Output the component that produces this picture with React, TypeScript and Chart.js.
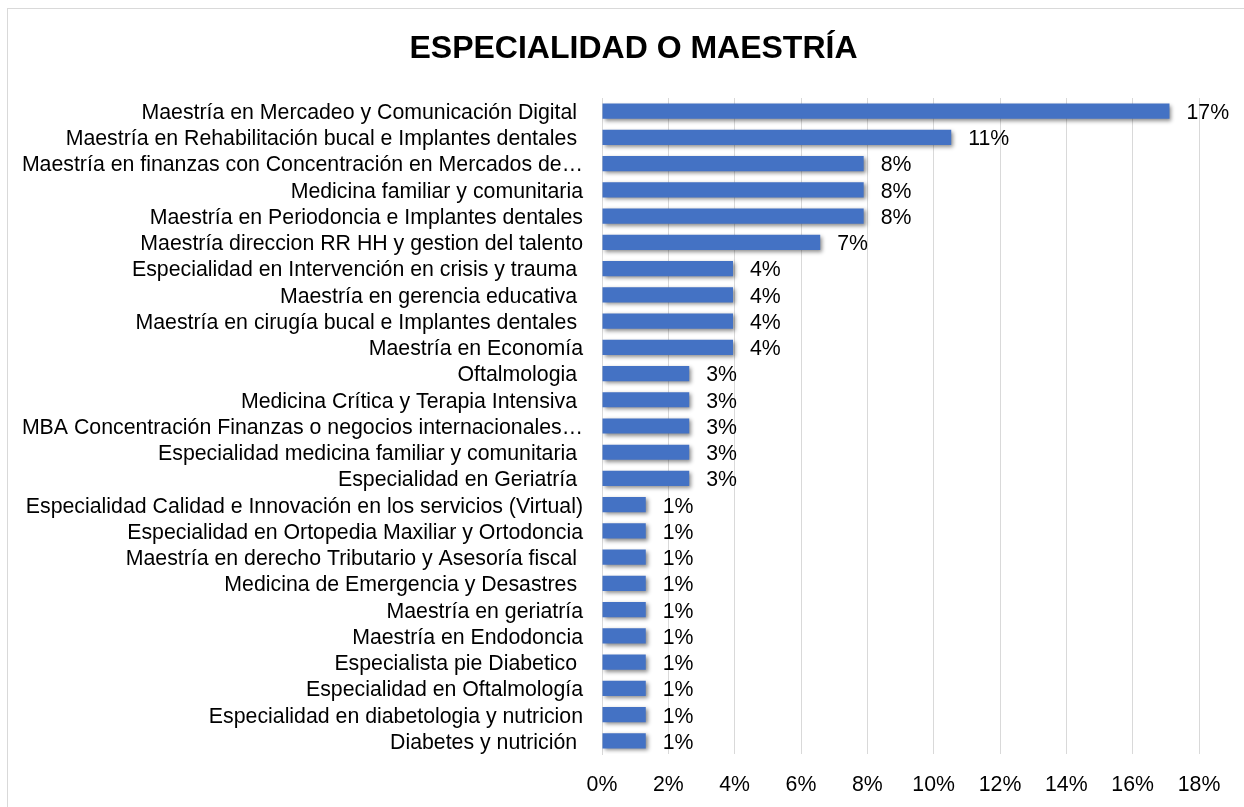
import React, { useEffect, useRef } from "react";
import { Chart, registerables } from "chart.js";

Chart.register(...registerables);

const categories: string[] = [
  "Maestría en Mercadeo y Comunicación Digital ",
  "Maestría en Rehabilitación bucal e Implantes dentales ",
  "Maestría en finanzas con Concentración en Mercados de…",
  "Medicina familiar y comunitaria",
  "Maestría en Periodoncia e Implantes dentales",
  "Maestría direccion RR HH y gestion del talento",
  "Especialidad en Intervención en crisis y trauma ",
  "Maestría en gerencia educativa ",
  "Maestría en cirugía bucal e Implantes dentales ",
  "Maestría en Economía",
  "Oftalmologia ",
  "Medicina Crítica y Terapia Intensiva ",
  "MBA Concentración Finanzas o negocios internacionales…",
  "Especialidad medicina familiar y comunitaria ",
  "Especialidad en Geriatría ",
  "Especialidad Calidad e Innovación en los servicios (Virtual)",
  "Especialidad en Ortopedia Maxiliar y Ortodoncia",
  "Maestría en derecho Tributario y Asesoría fiscal ",
  "Medicina de Emergencia y Desastres ",
  "Maestría en geriatría",
  "Maestría en Endodoncia",
  "Especialista pie Diabetico ",
  "Especialidad en Oftalmología",
  "Especialidad en diabetologia y nutricion",
  "Diabetes y nutrición ",
];

const values: number[] = [
  17.11, 10.53, 7.89, 7.89, 7.89, 6.58, 3.95, 3.95, 3.95, 3.95, 2.63, 2.63,
  2.63, 2.63, 2.63, 1.32, 1.32, 1.32, 1.32, 1.32, 1.32, 1.32, 1.32, 1.32, 1.32,
];

const valueLabels: string[] = [
  "17%", "11%", "8%", "8%", "8%", "7%", "4%", "4%", "4%", "4%", "3%", "3%",
  "3%", "3%", "3%", "1%", "1%", "1%", "1%", "1%", "1%", "1%", "1%", "1%", "1%",
];

const xTickMax = 18;
const xTickStep = 2;
const titleText = "ESPECIALIDAD O MAESTRÍA";

const FONT = "'Liberation Sans', Arial, sans-serif";

const decorPlugin = {
  id: "decor",
  beforeDraw(chart: any) {
    const ctx = chart.ctx;
    ctx.save();
    ctx.fillStyle = "#ffffff";
    ctx.fillRect(0, 0, chart.width, chart.height);
    ctx.strokeStyle = "#d9d9d9";
    ctx.lineWidth = 1;
    ctx.strokeRect(7.5, 8.5, chart.width + 10, chart.height + 10);
    ctx.fillStyle = "#000000";
    ctx.font = `bold 32px ${FONT}`;
    ctx.textAlign = "center";
    ctx.textBaseline = "alphabetic";
    ctx.fillText(titleText, 633.5, 58);
    ctx.restore();
  },
  beforeDatasetsDraw(chart: any) {
    const ctx = chart.ctx;
    ctx.save();
    ctx.shadowColor = "rgba(0,0,0,0.45)";
    ctx.shadowBlur = 4;
    ctx.shadowOffsetX = 2;
    ctx.shadowOffsetY = 2;
  },
  afterDatasetsDraw(chart: any) {
    const ctx = chart.ctx;
    ctx.restore();
    const meta = chart.getDatasetMeta(0);
    ctx.save();
    ctx.fillStyle = "#000000";
    ctx.font = `21.3px ${FONT}`;
    ctx.textAlign = "left";
    ctx.textBaseline = "middle";
    meta.data.forEach((bar: any, i: number) => {
      ctx.fillText(valueLabels[i], bar.x + 17, bar.y + 2);
    });
    ctx.restore();
  },
};

export default function App() {
  const ref = useRef<HTMLCanvasElement | null>(null);
  useEffect(() => {
    if (!ref.current) return;
    const chart = new Chart(ref.current, {
      type: "bar",
      data: {
        labels: categories,
        datasets: [
          {
            data: values,
            backgroundColor: "#4472C4",
            borderWidth: 0,
            barPercentage: 0.58,
            categoryPercentage: 1,
          },
        ],
      },
      options: {
        indexAxis: "y",
        animation: false,
        responsive: true,
        maintainAspectRatio: false,
        layout: { padding: { left: 0, right: 45, top: 98, bottom: 0 } },
        plugins: {
          legend: { display: false },
          tooltip: { enabled: false },
          title: { display: false },
        },
        scales: {
          x: {
            min: 0,
            max: xTickMax,
            ticks: {
              stepSize: xTickStep,
              color: "#000000",
              font: { family: FONT, size: 21.3 },
              padding: 18,
              callback: (v: any) => `${v}%`,
            },
            grid: { color: "#d9d9d9", drawTicks: false, lineWidth: 1 },
            border: { display: false },
            afterFit(axis: any) {
              axis.height = 53;
            },
          },
          y: {
            ticks: {
              color: "#000000",
              font: { family: FONT, size: 21.3 },
              padding: 19,
              labelOffset: 2,
              autoSkip: false,
            },
            grid: { display: false, drawTicks: false },
            border: { display: true, color: "#d9d9d9" },
            afterFit(axis: any) {
              axis.width = 602;
            },
          },
        },
      },
      plugins: [decorPlugin],
    });
    return () => chart.destroy();
  }, []);
  return (
    <div style={{ position: "fixed", left: 0, top: 0, width: 1244, height: 807 }}>
      <canvas ref={ref} />
    </div>
  );
}
